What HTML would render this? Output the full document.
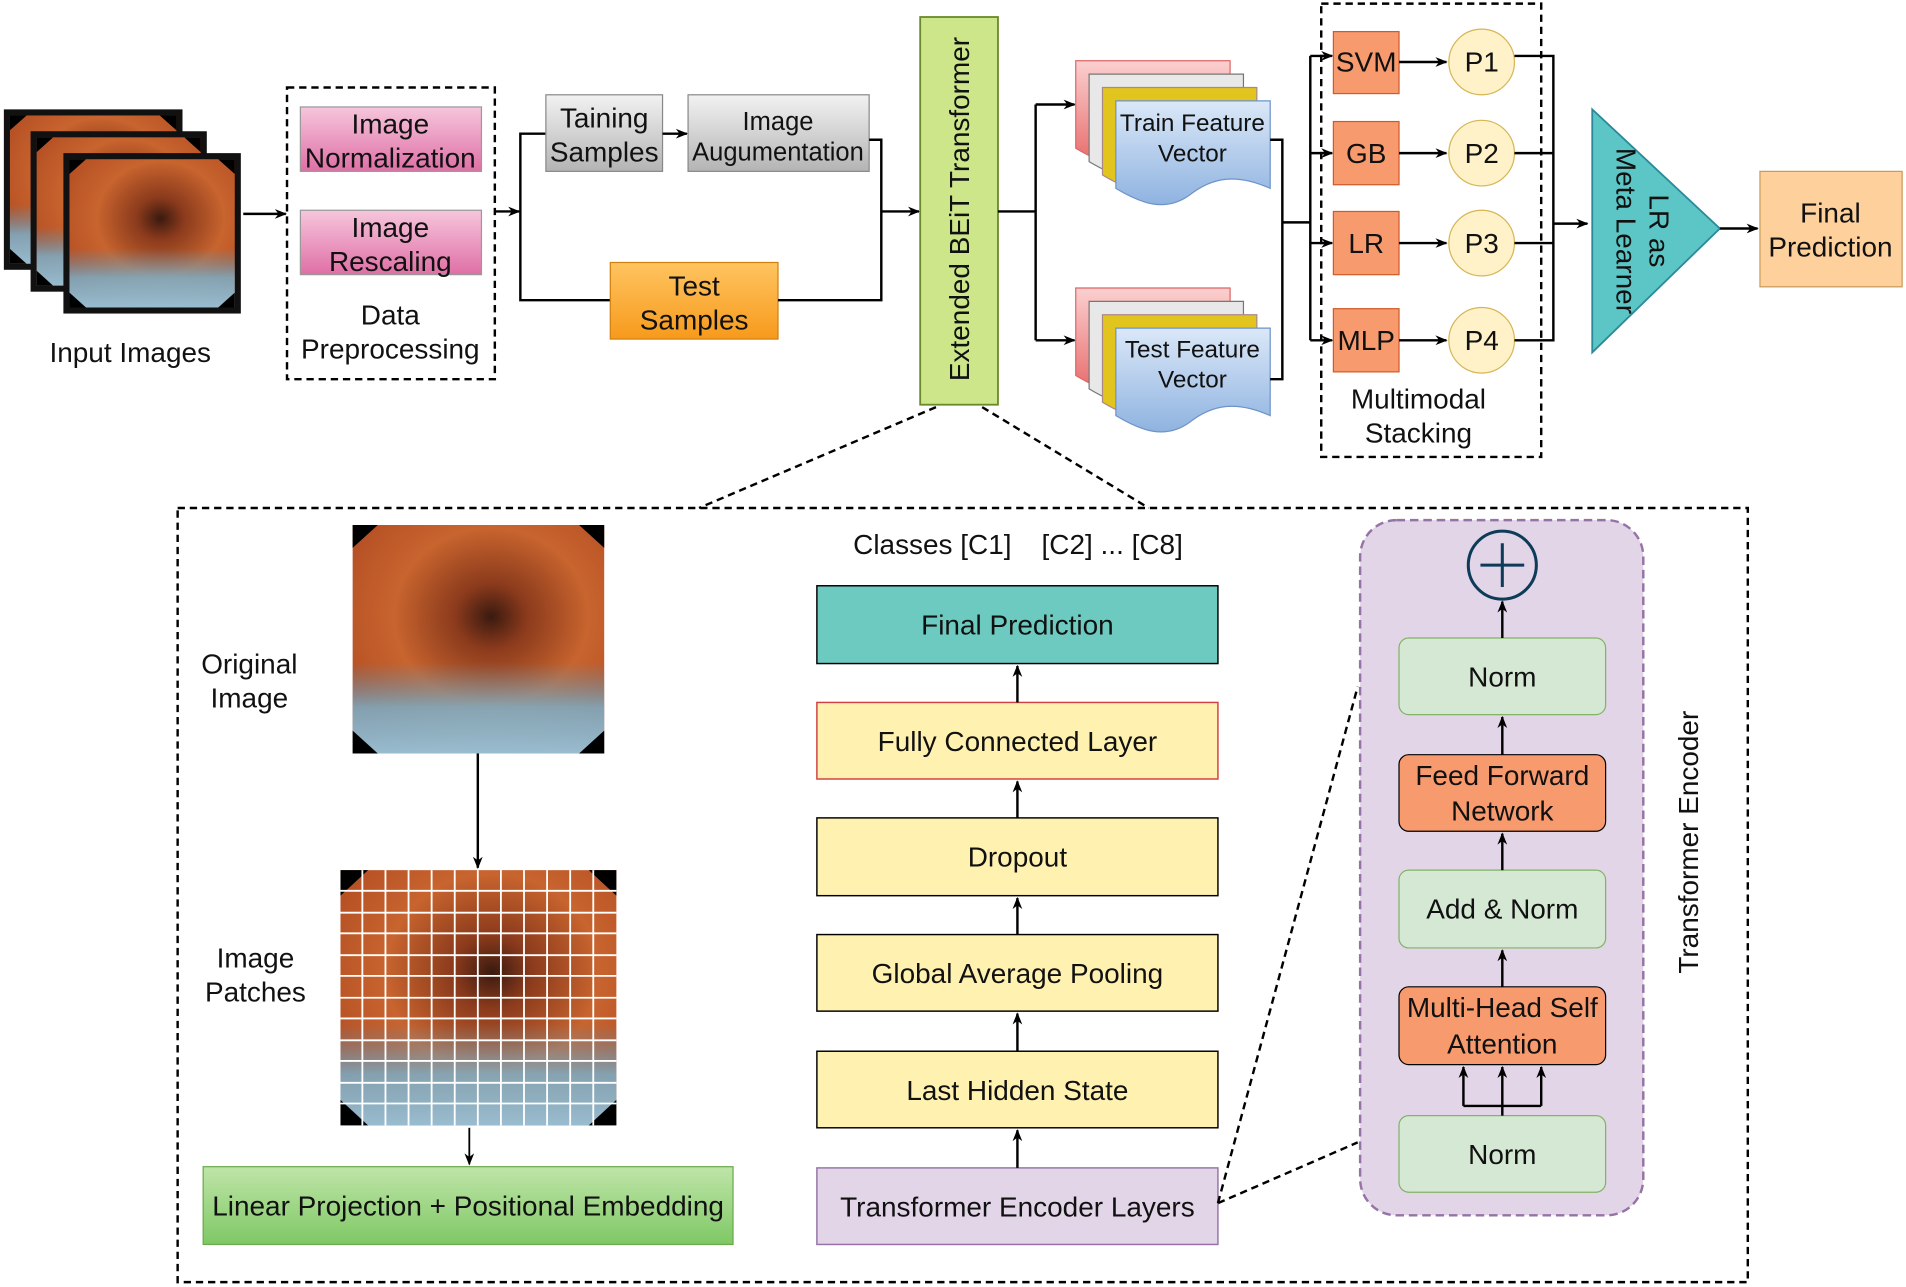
<!DOCTYPE html>
<html><head><meta charset="utf-8"><style>
html,body{margin:0;padding:0;background:#fff;}
svg{display:block;}
text{font-family:"Liberation Sans",sans-serif;fill:#111;}
</style></head><body>
<svg width="1906" height="1287" viewBox="0 0 1568 1059" xmlns="http://www.w3.org/2000/svg">
<defs>
<marker id="a" markerWidth="10" markerHeight="10" refX="9" refY="5" orient="auto" markerUnits="userSpaceOnUse"><path d="M0,1 L10,5 L0,9 L3,5 Z" fill="#000"/></marker>
<radialGradient id="colon" cx="0.55" cy="0.4" r="0.7"><stop offset="0" stop-color="#3a1a10"/><stop offset="0.2" stop-color="#8a3a1c"/><stop offset="0.55" stop-color="#c8642e"/><stop offset="1" stop-color="#b04a22"/></radialGradient>
<linearGradient id="blue" x1="0" y1="0" x2="0" y2="1"><stop offset="0" stop-color="#dbe8f8"/><stop offset="1" stop-color="#8fb3e0"/></linearGradient>
<linearGradient id="pink" x1="0" y1="0" x2="0" y2="1"><stop offset="0" stop-color="#f6c6dc"/><stop offset="1" stop-color="#df6fa6"/></linearGradient>
<linearGradient id="gray" x1="0" y1="0" x2="0" y2="1"><stop offset="0" stop-color="#f2f2f2"/><stop offset="1" stop-color="#b4b4b4"/></linearGradient>
<linearGradient id="orng" x1="0" y1="0" x2="0" y2="1"><stop offset="0" stop-color="#ffc460"/><stop offset="1" stop-color="#f79a1c"/></linearGradient>
<linearGradient id="red" x1="0" y1="0" x2="0" y2="1"><stop offset="0" stop-color="#fbd0d0"/><stop offset="1" stop-color="#e86a6a"/></linearGradient>
<linearGradient id="grn" x1="0" y1="0" x2="0" y2="1"><stop offset="0" stop-color="#bfe5a8"/><stop offset="1" stop-color="#7fc865"/></linearGradient>
<linearGradient id="bluebot" x1="0" y1="0" x2="0" y2="1"><stop offset="0.6" stop-color="rgba(80,150,190,0)"/><stop offset="0.8" stop-color="rgba(120,180,210,0.8)"/><stop offset="1" stop-color="rgba(150,200,225,0.9)"/></linearGradient>
<g id="img">
<rect width="100" height="100" fill="url(#colon)"/>
<rect width="100" height="100" fill="url(#bluebot)"/>
<path d="M0,0 L10,0 L0,10Z M100,0 L90,0 L100,10Z M0,100 L0,90 L10,100Z M100,100 L90,100 L100,90Z" fill="#000"/>
</g>
<g id="doc">
<path d="M0,0 H127 V72 C100,60 80,62 60,78 C40,92 20,84 0,72 Z"/>
</g>
</defs>

<rect x="3" y="90" width="147" height="132" fill="#111"/>
<use href="#img" transform="translate(8,95) scale(1.37,1.22)"/>
<rect x="25" y="108" width="145" height="132" fill="#111"/>
<use href="#img" transform="translate(30,113) scale(1.35,1.22)"/>
<rect x="52" y="126" width="146" height="132" fill="#111"/>
<use href="#img" transform="translate(57,131) scale(1.36,1.22)"/>
<text x="107" y="298" font-size="23" text-anchor="middle">Input Images</text>
<line x1="200" y1="176" x2="235" y2="176" stroke="#000" stroke-width="2" marker-end="url(#a)"/>

<rect x="236" y="72" width="171" height="240" fill="none" stroke="#000" stroke-width="2" stroke-dasharray="6,4"/>
<rect x="247" y="88" width="149" height="53" fill="url(#pink)" stroke="#999"/>
<text x="321" y="110" font-size="23" text-anchor="middle">Image</text>
<text x="321" y="138" font-size="23" text-anchor="middle">Normalization</text>
<rect x="247" y="173" width="149" height="53" fill="url(#pink)" stroke="#999"/>
<text x="321" y="195" font-size="23" text-anchor="middle">Image</text>
<text x="321" y="223" font-size="23" text-anchor="middle">Rescaling</text>
<text x="321" y="267" font-size="23" text-anchor="middle">Data</text>
<text x="321" y="295" font-size="23" text-anchor="middle">Preprocessing</text>
<line x1="407" y1="174" x2="427" y2="174" stroke="#000" stroke-width="2" marker-end="url(#a)"/>
<path d="M449,110 H428 V247 H502" fill="none" stroke="#000" stroke-width="2"/>
<rect x="449" y="78" width="96" height="63" fill="url(#gray)" stroke="#888"/>
<text x="497" y="105" font-size="23" text-anchor="middle">Taining</text>
<text x="497" y="133" font-size="23" text-anchor="middle">Samples</text>
<line x1="545" y1="110" x2="565" y2="110" stroke="#000" stroke-width="2" marker-end="url(#a)"/>
<rect x="566" y="78" width="149" height="63" fill="url(#gray)" stroke="#888"/>
<text x="640" y="107" font-size="21" text-anchor="middle">Image</text>
<text x="640" y="132" font-size="21" text-anchor="middle">Augumentation</text>
<rect x="502" y="216" width="138" height="63" fill="url(#orng)" stroke="#d08010"/>
<text x="571" y="243" font-size="23" text-anchor="middle">Test</text>
<text x="571" y="271" font-size="23" text-anchor="middle">Samples</text>
<path d="M715,115 H725 V247 H640" fill="none" stroke="#000" stroke-width="2"/>
<line x1="725" y1="174" x2="756" y2="174" stroke="#000" stroke-width="2" marker-end="url(#a)"/>

<rect x="757" y="14" width="64" height="319" fill="#cde68a" stroke="#6a8a2a" stroke-width="1.5"/>
<text transform="translate(797,172) rotate(-90)" font-size="23" text-anchor="middle">Extended BEiT Transformer</text>
<path d="M821,174 H852 M852,86 V280" fill="none" stroke="#000" stroke-width="2"/>
<line x1="852" y1="86" x2="884" y2="86" stroke="#000" stroke-width="2" marker-end="url(#a)"/>
<line x1="852" y1="280" x2="884" y2="280" stroke="#000" stroke-width="2" marker-end="url(#a)"/>

<g>
<use href="#doc" transform="translate(885,50)" fill="url(#red)" stroke="#d66"/>
<use href="#doc" transform="translate(896,61)" fill="#e8e8e8" stroke="#777"/>
<use href="#doc" transform="translate(907,72)" fill="#e2c41e" stroke="#a88"/>
<use href="#doc" transform="translate(918,83)" fill="url(#blue)" stroke="#6d93c8"/>
<text x="981" y="108" font-size="20" text-anchor="middle">Train Feature</text>
<text x="981" y="133" font-size="20" text-anchor="middle">Vector</text>
</g>
<g>
<use href="#doc" transform="translate(885,237)" fill="url(#red)" stroke="#d66"/>
<use href="#doc" transform="translate(896,248)" fill="#e8e8e8" stroke="#777"/>
<use href="#doc" transform="translate(907,259)" fill="#e2c41e" stroke="#a88"/>
<use href="#doc" transform="translate(918,270)" fill="url(#blue)" stroke="#6d93c8"/>
<text x="981" y="294" font-size="20" text-anchor="middle">Test Feature</text>
<text x="981" y="319" font-size="20" text-anchor="middle">Vector</text>
</g>
<path d="M1045,115 H1055 V312 H1045 M1055,183 H1078 M1078,46 V280" fill="none" stroke="#000" stroke-width="2"/>
<line x1="1078" y1="46" x2="1096" y2="46" stroke="#000" stroke-width="2" marker-end="url(#a)"/>
<line x1="1078" y1="126" x2="1096" y2="126" stroke="#000" stroke-width="2" marker-end="url(#a)"/>
<line x1="1078" y1="200" x2="1096" y2="200" stroke="#000" stroke-width="2" marker-end="url(#a)"/>
<line x1="1078" y1="280" x2="1096" y2="280" stroke="#000" stroke-width="2" marker-end="url(#a)"/>

<rect x="1087" y="3" width="181" height="373" fill="none" stroke="#000" stroke-width="2" stroke-dasharray="6,4"/>
<g font-size="23">
<rect x="1097" y="26" width="54" height="51" fill="#f79a6e" stroke="#d05a2a"/><text x="1124" y="59" text-anchor="middle">SVM</text>
<rect x="1097" y="100" width="54" height="52" fill="#f79a6e" stroke="#d05a2a"/><text x="1124" y="134" text-anchor="middle">GB</text>
<rect x="1097" y="174" width="54" height="52" fill="#f79a6e" stroke="#d05a2a"/><text x="1124" y="208" text-anchor="middle">LR</text>
<rect x="1097" y="254" width="54" height="52" fill="#f79a6e" stroke="#d05a2a"/><text x="1124" y="288" text-anchor="middle">MLP</text>
</g>
<g stroke="#000" stroke-width="2">
<line x1="1151" y1="51" x2="1190" y2="51" marker-end="url(#a)"/>
<line x1="1151" y1="126" x2="1190" y2="126" marker-end="url(#a)"/>
<line x1="1151" y1="200" x2="1190" y2="200" marker-end="url(#a)"/>
<line x1="1151" y1="280" x2="1190" y2="280" marker-end="url(#a)"/>
</g>
<g font-size="23">
<circle cx="1219" cy="51" r="27" fill="#fff2c8" stroke="#d6b656"/><text x="1219" y="59" text-anchor="middle">P1</text>
<circle cx="1219" cy="126" r="27" fill="#fff2c8" stroke="#d6b656"/><text x="1219" y="134" text-anchor="middle">P2</text>
<circle cx="1219" cy="200" r="27" fill="#fff2c8" stroke="#d6b656"/><text x="1219" y="208" text-anchor="middle">P3</text>
<circle cx="1219" cy="280" r="27" fill="#fff2c8" stroke="#d6b656"/><text x="1219" y="288" text-anchor="middle">P4</text>
</g>
<path d="M1246,46 H1278 V280 H1246 M1246,126 H1278 M1246,200 H1278" fill="none" stroke="#000" stroke-width="2"/>
<line x1="1278" y1="184" x2="1306" y2="184" stroke="#000" stroke-width="2" marker-end="url(#a)"/>
<text x="1167" y="336" font-size="23" text-anchor="middle">Multimodal</text>
<text x="1167" y="364" font-size="23" text-anchor="middle">Stacking</text>

<path d="M1310,90 L1415,188 L1310,290 Z" fill="#5cc6c6" stroke="#2a8a9a" stroke-width="1.5"/>
<text transform="translate(1355,190) rotate(90)" font-size="23" text-anchor="middle"><tspan x="0" y="-2">LR as</tspan><tspan x="0" y="25">Meta Learner</tspan></text>
<line x1="1415" y1="188" x2="1446" y2="188" stroke="#000" stroke-width="2" marker-end="url(#a)"/>
<rect x="1448" y="141" width="117" height="95" fill="#fdd09c" stroke="#c99a5a"/>
<text x="1506" y="183" font-size="23" text-anchor="middle">Final</text>
<text x="1506" y="211" font-size="23" text-anchor="middle">Prediction</text>

<path d="M770,335 L575,418 M808,335 L945,418" stroke="#000" stroke-width="2" stroke-dasharray="6,4"/>
<rect x="146" y="418" width="1292" height="637" fill="none" stroke="#000" stroke-width="2" stroke-dasharray="6,4"/>

<use href="#img" transform="translate(290,432) scale(2.07,1.88)"/>
<text x="205" y="554" font-size="23" text-anchor="middle">Original</text>
<text x="205" y="582" font-size="23" text-anchor="middle">Image</text>
<line x1="393" y1="620" x2="393" y2="714" stroke="#000" stroke-width="2" marker-end="url(#a)"/>

<use href="#img" transform="translate(280,716) scale(2.27,2.1)"/>
<g stroke="#fff" stroke-width="1.5">
<path d="M298,716V926M317,716V926M336,716V926M355,716V926M374,716V926M393,716V926M412,716V926M431,716V926M450,716V926M469,716V926M488,716V926"/>
<path d="M280,733H507M280,751H507M280,768H507M280,786H507M280,803H507M280,821H507M280,838H507M280,856H507M280,873H507M280,891H507M280,908H507"/>
</g>
<text x="210" y="796" font-size="23" text-anchor="middle">Image</text>
<text x="210" y="824" font-size="23" text-anchor="middle">Patches</text>
<line x1="386" y1="928" x2="386" y2="958" stroke="#000" stroke-width="1.5" marker-end="url(#a)"/>
<rect x="167" y="960" width="436" height="64" fill="url(#grn)" stroke="#6aaa4a"/>
<text x="385" y="1000" font-size="23" text-anchor="middle">Linear Projection + Positional Embedding</text>

<text x="767" y="456" font-size="23" text-anchor="middle">Classes [C1]</text>
<text x="915" y="456" font-size="23" text-anchor="middle">[C2] ... [C8]</text>
<g font-size="23" text-anchor="middle">
<rect x="672" y="482" width="330" height="64" fill="#6ccac0" stroke="#000" stroke-width="1.2"/><text x="837" y="522">Final Prediction</text>
<rect x="672" y="578" width="330" height="63" fill="#fff2b0" stroke="#d04040" stroke-width="1.2"/><text x="837" y="618">Fully Connected Layer</text>
<rect x="672" y="673" width="330" height="64" fill="#fff2b0" stroke="#000" stroke-width="1.2"/><text x="837" y="713">Dropout</text>
<rect x="672" y="769" width="330" height="63" fill="#fff2b0" stroke="#000" stroke-width="1.2"/><text x="837" y="809">Global Average Pooling</text>
<rect x="672" y="865" width="330" height="63" fill="#fff2b0" stroke="#000" stroke-width="1.2"/><text x="837" y="905">Last Hidden State</text>
<rect x="672" y="961" width="330" height="63" fill="#e1d5e7" stroke="#9673a6" stroke-width="1.2"/><text x="837" y="1001">Transformer Encoder Layers</text>
</g>
<g stroke="#000" stroke-width="2">
<line x1="837" y1="578" x2="837" y2="548" marker-end="url(#a)"/>
<line x1="837" y1="673" x2="837" y2="643" marker-end="url(#a)"/>
<line x1="837" y1="769" x2="837" y2="739" marker-end="url(#a)"/>
<line x1="837" y1="865" x2="837" y2="834" marker-end="url(#a)"/>
<line x1="837" y1="961" x2="837" y2="930" marker-end="url(#a)"/>
</g>
<path d="M1002,990 L1117,565 M1002,990 L1117,940" stroke="#000" stroke-width="2" stroke-dasharray="6,4"/>

<rect x="1119" y="428" width="233" height="572" rx="30" fill="#e1d5e7" stroke="#9673a6" stroke-width="2" stroke-dasharray="7,4"/>
<circle cx="1236" cy="465" r="28" fill="none" stroke="#0e3b57" stroke-width="2.5"/>
<path d="M1236,447V483M1218,465H1254" stroke="#0e3b57" stroke-width="2.5"/>
<g font-size="23" text-anchor="middle">
<rect x="1151" y="525" width="170" height="63" rx="8" fill="#d5e8d4" stroke="#82b366"/><text x="1236" y="565">Norm</text>
<rect x="1151" y="621" width="170" height="63" rx="8" fill="#f79a6e" stroke="#000"/><text x="1236" y="646">Feed Forward</text><text x="1236" y="675">Network</text>
<rect x="1151" y="716" width="170" height="64" rx="8" fill="#d5e8d4" stroke="#82b366"/><text x="1236" y="756">Add &amp; Norm</text>
<rect x="1151" y="812" width="170" height="64" rx="8" fill="#f79a6e" stroke="#000"/><text x="1236" y="837">Multi-Head Self</text><text x="1236" y="867">Attention</text>
<rect x="1151" y="918" width="170" height="63" rx="8" fill="#d5e8d4" stroke="#82b366"/><text x="1236" y="958">Norm</text>
</g>
<g stroke="#000" stroke-width="2" fill="none">
<line x1="1236" y1="525" x2="1236" y2="495" marker-end="url(#a)"/>
<line x1="1236" y1="621" x2="1236" y2="590" marker-end="url(#a)"/>
<line x1="1236" y1="716" x2="1236" y2="686" marker-end="url(#a)"/>
<line x1="1236" y1="812" x2="1236" y2="782" marker-end="url(#a)"/>
<line x1="1236" y1="918" x2="1236" y2="878" marker-end="url(#a)"/>
<path d="M1204,910 H1268"/>
<line x1="1204" y1="910" x2="1204" y2="878" marker-end="url(#a)"/>
<line x1="1268" y1="910" x2="1268" y2="878" marker-end="url(#a)"/>
</g>
<text transform="translate(1397,693) rotate(-90)" font-size="23" text-anchor="middle">Transformer Encoder</text>
</svg>
</body></html>
